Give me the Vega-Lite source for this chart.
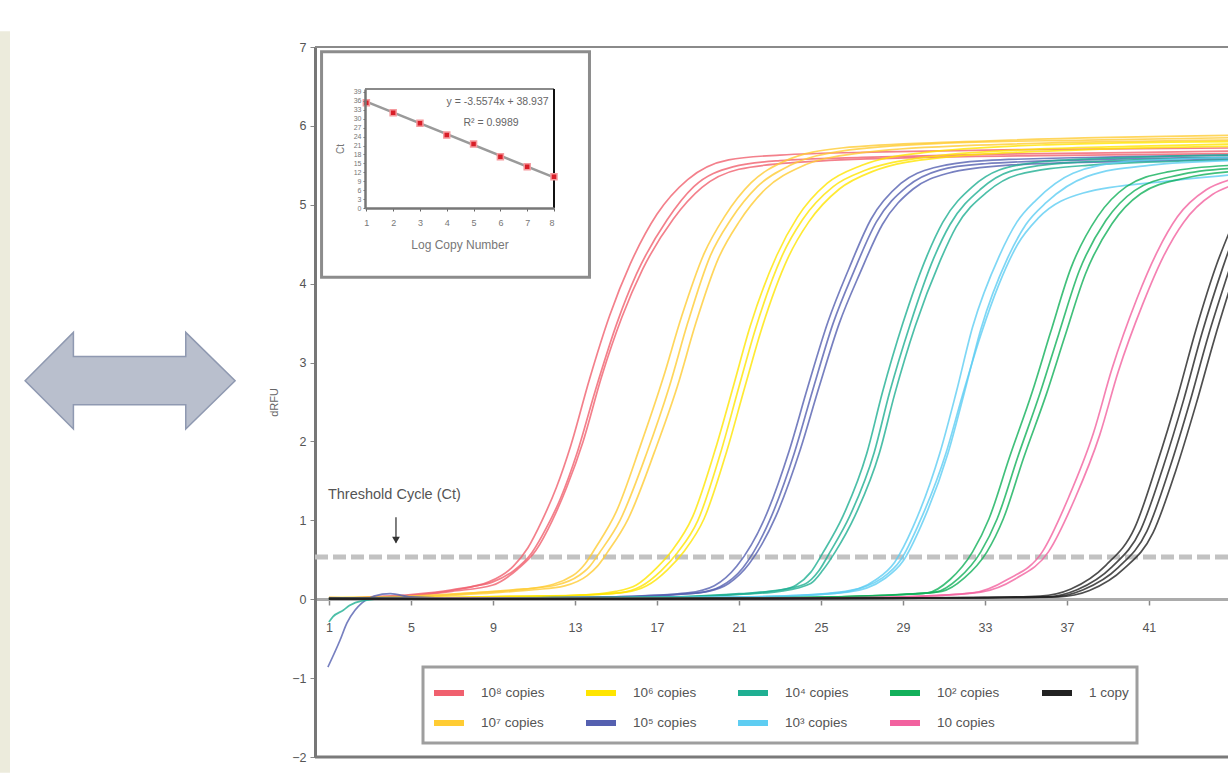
{
"$schema": "https://vega.github.io/schema/vega-lite/v6.json",
"width": 913, "height": 710,
"autosize": {"type": "none"},
"padding": {"left": 315, "top": 47, "right": 0, "bottom": 16},
"background": "white",
"config": {"font": "Liberation Sans", "view": {"stroke": null}, "axis": {"grid": false, "labelColor": "#555", "titleColor": "#555", "domainColor": "#777", "tickColor": "#777"}, "legend": {"strokeWidth": 3}},
"data": {"values": [{}]},
"datasets": {
"curves": [
{"s":"10⁸ copies","r":1,"c":1,"v":0.01},{"s":"10⁸ copies","r":1,"c":3,"v":0.02},{"s":"10⁸ copies","r":1,"c":5,"v":0.05},{"s":"10⁸ copies","r":1,"c":6.2,"v":0.08},{"s":"10⁸ copies","r":1,"c":7.2,"v":0.12},{"s":"10⁸ copies","r":1,"c":8,"v":0.16},{"s":"10⁸ copies","r":1,"c":9,"v":0.22},{"s":"10⁸ copies","r":1,"c":10,"v":0.36},{"s":"10⁸ copies","r":1,"c":10.9,"v":0.59},{"s":"10⁸ copies","r":1,"c":11.6,"v":0.9},{"s":"10⁸ copies","r":1,"c":12.3,"v":1.28},{"s":"10⁸ copies","r":1,"c":13.1,"v":1.85},{"s":"10⁸ copies","r":1,"c":14,"v":2.65},{"s":"10⁸ copies","r":1,"c":15.05,"v":3.5},{"s":"10⁸ copies","r":1,"c":16,"v":4.12},{"s":"10⁸ copies","r":1,"c":17.5,"v":4.81},{"s":"10⁸ copies","r":1,"c":18.8,"v":5.23},{"s":"10⁸ copies","r":1,"c":20.7,"v":5.48},{"s":"10⁸ copies","r":1,"c":23,"v":5.56},{"s":"10⁸ copies","r":1,"c":27,"v":5.6},{"s":"10⁸ copies","r":1,"c":33,"v":5.64},{"s":"10⁸ copies","r":1,"c":40,"v":5.66},{"s":"10⁸ copies","r":1,"c":45,"v":5.68},
{"s":"10⁸ copies","r":2,"c":1,"v":0},{"s":"10⁸ copies","r":2,"c":3,"v":0.03},{"s":"10⁸ copies","r":2,"c":5,"v":0.06},{"s":"10⁸ copies","r":2,"c":7,"v":0.12},{"s":"10⁸ copies","r":2,"c":8.8,"v":0.22},{"s":"10⁸ copies","r":2,"c":10,"v":0.42},{"s":"10⁸ copies","r":2,"c":10.7,"v":0.65},{"s":"10⁸ copies","r":2,"c":11.4,"v":1.0},{"s":"10⁸ copies","r":2,"c":12.1,"v":1.42},{"s":"10⁸ copies","r":2,"c":12.8,"v":1.95},{"s":"10⁸ copies","r":2,"c":13.7,"v":2.78},{"s":"10⁸ copies","r":2,"c":14.7,"v":3.6},{"s":"10⁸ copies","r":2,"c":15.7,"v":4.25},{"s":"10⁸ copies","r":2,"c":17,"v":4.88},{"s":"10⁸ copies","r":2,"c":18.5,"v":5.32},{"s":"10⁸ copies","r":2,"c":20.5,"v":5.57},{"s":"10⁸ copies","r":2,"c":23,"v":5.63},{"s":"10⁸ copies","r":2,"c":28,"v":5.67},{"s":"10⁸ copies","r":2,"c":35,"v":5.7},{"s":"10⁸ copies","r":2,"c":45,"v":5.72},
{"s":"10⁸ copies","r":3,"c":1,"v":0.02},{"s":"10⁸ copies","r":3,"c":3,"v":0.01},{"s":"10⁸ copies","r":3,"c":5,"v":0.04},{"s":"10⁸ copies","r":3,"c":7,"v":0.1},{"s":"10⁸ copies","r":3,"c":9,"v":0.18},{"s":"10⁸ copies","r":3,"c":10.2,"v":0.38},{"s":"10⁸ copies","r":3,"c":11.1,"v":0.62},{"s":"10⁸ copies","r":3,"c":11.9,"v":1.0},{"s":"10⁸ copies","r":3,"c":12.6,"v":1.42},{"s":"10⁸ copies","r":3,"c":13.4,"v":2.0},{"s":"10⁸ copies","r":3,"c":14.3,"v":2.82},{"s":"10⁸ copies","r":3,"c":15.3,"v":3.58},{"s":"10⁸ copies","r":3,"c":16.3,"v":4.18},{"s":"10⁸ copies","r":3,"c":17.8,"v":4.82},{"s":"10⁸ copies","r":3,"c":19.2,"v":5.22},{"s":"10⁸ copies","r":3,"c":21,"v":5.45},{"s":"10⁸ copies","r":3,"c":24,"v":5.54},{"s":"10⁸ copies","r":3,"c":30,"v":5.6},{"s":"10⁸ copies","r":3,"c":38,"v":5.63},{"s":"10⁸ copies","r":3,"c":45,"v":5.65},
{"s":"10⁷ copies","r":1,"c":1,"v":0},{"s":"10⁷ copies","r":1,"c":4,"v":0.02},{"s":"10⁷ copies","r":1,"c":7,"v":0.06},{"s":"10⁷ copies","r":1,"c":9,"v":0.1},{"s":"10⁷ copies","r":1,"c":10.5,"v":0.13},{"s":"10⁷ copies","r":1,"c":12.1,"v":0.18},{"s":"10⁷ copies","r":1,"c":13.2,"v":0.3},{"s":"10⁷ copies","r":1,"c":13.7,"v":0.41},{"s":"10⁷ copies","r":1,"c":14.2,"v":0.59},{"s":"10⁷ copies","r":1,"c":15.2,"v":1.0},{"s":"10⁷ copies","r":1,"c":16.5,"v":1.85},{"s":"10⁷ copies","r":1,"c":17.6,"v":2.69},{"s":"10⁷ copies","r":1,"c":18.5,"v":3.5},{"s":"10⁷ copies","r":1,"c":19.6,"v":4.35},{"s":"10⁷ copies","r":1,"c":20.6,"v":4.81},{"s":"10⁷ copies","r":1,"c":21.9,"v":5.23},{"s":"10⁷ copies","r":1,"c":23.5,"v":5.5},{"s":"10⁷ copies","r":1,"c":26,"v":5.68},{"s":"10⁷ copies","r":1,"c":31,"v":5.78},{"s":"10⁷ copies","r":1,"c":38,"v":5.82},{"s":"10⁷ copies","r":1,"c":45,"v":5.85},
{"s":"10⁷ copies","r":2,"c":1,"v":0.01},{"s":"10⁷ copies","r":2,"c":4,"v":0.01},{"s":"10⁷ copies","r":2,"c":7,"v":0.05},{"s":"10⁷ copies","r":2,"c":9,"v":0.08},{"s":"10⁷ copies","r":2,"c":11,"v":0.12},{"s":"10⁷ copies","r":2,"c":12.5,"v":0.17},{"s":"10⁷ copies","r":2,"c":13.6,"v":0.3},{"s":"10⁷ copies","r":2,"c":14.1,"v":0.42},{"s":"10⁷ copies","r":2,"c":14.6,"v":0.6},{"s":"10⁷ copies","r":2,"c":15.6,"v":1.02},{"s":"10⁷ copies","r":2,"c":16.9,"v":1.88},{"s":"10⁷ copies","r":2,"c":18,"v":2.7},{"s":"10⁷ copies","r":2,"c":18.9,"v":3.5},{"s":"10⁷ copies","r":2,"c":20,"v":4.32},{"s":"10⁷ copies","r":2,"c":21,"v":4.78},{"s":"10⁷ copies","r":2,"c":22.3,"v":5.2},{"s":"10⁷ copies","r":2,"c":24,"v":5.48},{"s":"10⁷ copies","r":2,"c":27,"v":5.66},{"s":"10⁷ copies","r":2,"c":32,"v":5.75},{"s":"10⁷ copies","r":2,"c":45,"v":5.82},
{"s":"10⁷ copies","r":3,"c":1,"v":0.02},{"s":"10⁷ copies","r":3,"c":5,"v":0.04},{"s":"10⁷ copies","r":3,"c":8,"v":0.08},{"s":"10⁷ copies","r":3,"c":11,"v":0.14},{"s":"10⁷ copies","r":3,"c":12.9,"v":0.3},{"s":"10⁷ copies","r":3,"c":13.5,"v":0.45},{"s":"10⁷ copies","r":3,"c":14,"v":0.65},{"s":"10⁷ copies","r":3,"c":15,"v":1.1},{"s":"10⁷ copies","r":3,"c":16.2,"v":1.95},{"s":"10⁷ copies","r":3,"c":17.3,"v":2.8},{"s":"10⁷ copies","r":3,"c":18.2,"v":3.58},{"s":"10⁷ copies","r":3,"c":19.3,"v":4.38},{"s":"10⁷ copies","r":3,"c":20.3,"v":4.85},{"s":"10⁷ copies","r":3,"c":21.6,"v":5.28},{"s":"10⁷ copies","r":3,"c":23.2,"v":5.55},{"s":"10⁷ copies","r":3,"c":26,"v":5.72},{"s":"10⁷ copies","r":3,"c":32,"v":5.8},{"s":"10⁷ copies","r":3,"c":45,"v":5.88},
{"s":"10⁶ copies","r":1,"c":1,"v":0},{"s":"10⁶ copies","r":1,"c":5,"v":0.01},{"s":"10⁶ copies","r":1,"c":9,"v":0.03},{"s":"10⁶ copies","r":1,"c":12,"v":0.04},{"s":"10⁶ copies","r":1,"c":14,"v":0.06},{"s":"10⁶ copies","r":1,"c":15.2,"v":0.08},{"s":"10⁶ copies","r":1,"c":16.2,"v":0.16},{"s":"10⁶ copies","r":1,"c":17.2,"v":0.36},{"s":"10⁶ copies","r":1,"c":18,"v":0.59},{"s":"10⁶ copies","r":1,"c":19,"v":1.0},{"s":"10⁶ copies","r":1,"c":20.1,"v":1.85},{"s":"10⁶ copies","r":1,"c":21,"v":2.69},{"s":"10⁶ copies","r":1,"c":21.8,"v":3.42},{"s":"10⁶ copies","r":1,"c":23.1,"v":4.35},{"s":"10⁶ copies","r":1,"c":24.1,"v":4.81},{"s":"10⁶ copies","r":1,"c":25.6,"v":5.23},{"s":"10⁶ copies","r":1,"c":27.2,"v":5.44},{"s":"10⁶ copies","r":1,"c":30,"v":5.6},{"s":"10⁶ copies","r":1,"c":35,"v":5.7},{"s":"10⁶ copies","r":1,"c":40,"v":5.74},{"s":"10⁶ copies","r":1,"c":45,"v":5.77},
{"s":"10⁶ copies","r":2,"c":1,"v":0.01},{"s":"10⁶ copies","r":2,"c":6,"v":0.02},{"s":"10⁶ copies","r":2,"c":10,"v":0.03},{"s":"10⁶ copies","r":2,"c":13,"v":0.05},{"s":"10⁶ copies","r":2,"c":15.5,"v":0.09},{"s":"10⁶ copies","r":2,"c":16.5,"v":0.17},{"s":"10⁶ copies","r":2,"c":17.5,"v":0.37},{"s":"10⁶ copies","r":2,"c":18.3,"v":0.6},{"s":"10⁶ copies","r":2,"c":19.3,"v":1.02},{"s":"10⁶ copies","r":2,"c":20.4,"v":1.87},{"s":"10⁶ copies","r":2,"c":21.3,"v":2.7},{"s":"10⁶ copies","r":2,"c":22.1,"v":3.42},{"s":"10⁶ copies","r":2,"c":23.4,"v":4.33},{"s":"10⁶ copies","r":2,"c":24.4,"v":4.78},{"s":"10⁶ copies","r":2,"c":25.9,"v":5.2},{"s":"10⁶ copies","r":2,"c":27.5,"v":5.42},{"s":"10⁶ copies","r":2,"c":31,"v":5.6},{"s":"10⁶ copies","r":2,"c":38,"v":5.7},{"s":"10⁶ copies","r":2,"c":45,"v":5.74},
{"s":"10⁶ copies","r":3,"c":1,"v":0.02},{"s":"10⁶ copies","r":3,"c":6,"v":0.02},{"s":"10⁶ copies","r":3,"c":10,"v":0.04},{"s":"10⁶ copies","r":3,"c":13,"v":0.05},{"s":"10⁶ copies","r":3,"c":15,"v":0.1},{"s":"10⁶ copies","r":3,"c":16,"v":0.18},{"s":"10⁶ copies","r":3,"c":17,"v":0.4},{"s":"10⁶ copies","r":3,"c":17.75,"v":0.62},{"s":"10⁶ copies","r":3,"c":18.75,"v":1.05},{"s":"10⁶ copies","r":3,"c":19.85,"v":1.9},{"s":"10⁶ copies","r":3,"c":20.75,"v":2.72},{"s":"10⁶ copies","r":3,"c":21.55,"v":3.46},{"s":"10⁶ copies","r":3,"c":22.85,"v":4.36},{"s":"10⁶ copies","r":3,"c":23.85,"v":4.84},{"s":"10⁶ copies","r":3,"c":25.3,"v":5.27},{"s":"10⁶ copies","r":3,"c":27,"v":5.5},{"s":"10⁶ copies","r":3,"c":30,"v":5.66},{"s":"10⁶ copies","r":3,"c":36,"v":5.76},{"s":"10⁶ copies","r":3,"c":45,"v":5.8},
{"s":"10⁵ copies","r":1,"c":1,"v":0},{"s":"10⁵ copies","r":1,"c":4,"v":0.02},{"s":"10⁵ copies","r":1,"c":8,"v":0.01},{"s":"10⁵ copies","r":1,"c":12,"v":0.02},{"s":"10⁵ copies","r":1,"c":15,"v":0.03},{"s":"10⁵ copies","r":1,"c":17,"v":0.05},{"s":"10⁵ copies","r":1,"c":19,"v":0.08},{"s":"10⁵ copies","r":1,"c":20.1,"v":0.16},{"s":"10⁵ copies","r":1,"c":21.2,"v":0.4},{"s":"10⁵ copies","r":1,"c":22.5,"v":1.0},{"s":"10⁵ copies","r":1,"c":23.7,"v":1.85},{"s":"10⁵ copies","r":1,"c":24.6,"v":2.65},{"s":"10⁵ copies","r":1,"c":25.6,"v":3.5},{"s":"10⁵ copies","r":1,"c":26.6,"v":4.15},{"s":"10⁵ copies","r":1,"c":27.7,"v":4.78},{"s":"10⁵ copies","r":1,"c":29.2,"v":5.23},{"s":"10⁵ copies","r":1,"c":30.8,"v":5.44},{"s":"10⁵ copies","r":1,"c":33,"v":5.52},{"s":"10⁵ copies","r":1,"c":38,"v":5.57},{"s":"10⁵ copies","r":1,"c":45,"v":5.6},
{"s":"10⁵ copies","r":2,"c":0.95,"v":-0.86},{"s":"10⁵ copies","r":2,"c":1.54,"v":-0.52},{"s":"10⁵ copies","r":2,"c":1.88,"v":-0.3},{"s":"10⁵ copies","r":2,"c":2.27,"v":-0.14},{"s":"10⁵ copies","r":2,"c":2.6,"v":-0.05},{"s":"10⁵ copies","r":2,"c":3.2,"v":0.04},{"s":"10⁵ copies","r":2,"c":4,"v":0.07},{"s":"10⁵ copies","r":2,"c":5,"v":0.03},{"s":"10⁵ copies","r":2,"c":8,"v":0.01},{"s":"10⁵ copies","r":2,"c":12,"v":0.02},{"s":"10⁵ copies","r":2,"c":16,"v":0.03},{"s":"10⁵ copies","r":2,"c":18,"v":0.06},{"s":"10⁵ copies","r":2,"c":19.5,"v":0.1},{"s":"10⁵ copies","r":2,"c":20.5,"v":0.2},{"s":"10⁵ copies","r":2,"c":21.5,"v":0.45},{"s":"10⁵ copies","r":2,"c":22.8,"v":1.05},{"s":"10⁵ copies","r":2,"c":24,"v":1.9},{"s":"10⁵ copies","r":2,"c":24.9,"v":2.68},{"s":"10⁵ copies","r":2,"c":25.9,"v":3.5},{"s":"10⁵ copies","r":2,"c":26.9,"v":4.13},{"s":"10⁵ copies","r":2,"c":28,"v":4.75},{"s":"10⁵ copies","r":2,"c":29.5,"v":5.2},{"s":"10⁵ copies","r":2,"c":31.2,"v":5.4},{"s":"10⁵ copies","r":2,"c":34,"v":5.5},{"s":"10⁵ copies","r":2,"c":40,"v":5.55},{"s":"10⁵ copies","r":2,"c":45,"v":5.58},
{"s":"10⁵ copies","r":3,"c":1,"v":0.01},{"s":"10⁵ copies","r":3,"c":5,"v":0.02},{"s":"10⁵ copies","r":3,"c":10,"v":0.01},{"s":"10⁵ copies","r":3,"c":15,"v":0.03},{"s":"10⁵ copies","r":3,"c":18.5,"v":0.08},{"s":"10⁵ copies","r":3,"c":19.8,"v":0.17},{"s":"10⁵ copies","r":3,"c":20.9,"v":0.42},{"s":"10⁵ copies","r":3,"c":22.25,"v":1.02},{"s":"10⁵ copies","r":3,"c":23.45,"v":1.88},{"s":"10⁵ copies","r":3,"c":24.35,"v":2.68},{"s":"10⁵ copies","r":3,"c":25.35,"v":3.52},{"s":"10⁵ copies","r":3,"c":26.35,"v":4.18},{"s":"10⁵ copies","r":3,"c":27.45,"v":4.82},{"s":"10⁵ copies","r":3,"c":28.9,"v":5.27},{"s":"10⁵ copies","r":3,"c":30.5,"v":5.47},{"s":"10⁵ copies","r":3,"c":33,"v":5.56},{"s":"10⁵ copies","r":3,"c":40,"v":5.61},{"s":"10⁵ copies","r":3,"c":45,"v":5.63},
{"s":"10⁴ copies","r":1,"c":1,"v":-0.29},{"s":"10⁴ copies","r":1,"c":1.2,"v":-0.22},{"s":"10⁴ copies","r":1,"c":1.7,"v":-0.14},{"s":"10⁴ copies","r":1,"c":2,"v":-0.08},{"s":"10⁴ copies","r":1,"c":2.6,"v":-0.02},{"s":"10⁴ copies","r":1,"c":4,"v":0.01},{"s":"10⁴ copies","r":1,"c":8,"v":0},{"s":"10⁴ copies","r":1,"c":12,"v":0.01},{"s":"10⁴ copies","r":1,"c":16,"v":0.02},{"s":"10⁴ copies","r":1,"c":19,"v":0.04},{"s":"10⁴ copies","r":1,"c":21,"v":0.07},{"s":"10⁴ copies","r":1,"c":23.1,"v":0.12},{"s":"10⁴ copies","r":1,"c":23.8,"v":0.18},{"s":"10⁴ copies","r":1,"c":24.5,"v":0.34},{"s":"10⁴ copies","r":1,"c":25.1,"v":0.59},{"s":"10⁴ copies","r":1,"c":26.07,"v":1.05},{"s":"10⁴ copies","r":1,"c":27.24,"v":1.85},{"s":"10⁴ copies","r":1,"c":28,"v":2.62},{"s":"10⁴ copies","r":1,"c":29,"v":3.5},{"s":"10⁴ copies","r":1,"c":30.17,"v":4.35},{"s":"10⁴ copies","r":1,"c":30.95,"v":4.78},{"s":"10⁴ copies","r":1,"c":32.4,"v":5.23},{"s":"10⁴ copies","r":1,"c":33.7,"v":5.44},{"s":"10⁴ copies","r":1,"c":36,"v":5.55},{"s":"10⁴ copies","r":1,"c":40,"v":5.6},{"s":"10⁴ copies","r":1,"c":45,"v":5.63},
{"s":"10⁴ copies","r":2,"c":1,"v":0},{"s":"10⁴ copies","r":2,"c":4,"v":0.01},{"s":"10⁴ copies","r":2,"c":10,"v":0.01},{"s":"10⁴ copies","r":2,"c":16,"v":0.02},{"s":"10⁴ copies","r":2,"c":20,"v":0.05},{"s":"10⁴ copies","r":2,"c":22.5,"v":0.1},{"s":"10⁴ copies","r":2,"c":24.2,"v":0.19},{"s":"10⁴ copies","r":2,"c":24.9,"v":0.36},{"s":"10⁴ copies","r":2,"c":25.45,"v":0.6},{"s":"10⁴ copies","r":2,"c":26.4,"v":1.05},{"s":"10⁴ copies","r":2,"c":27.6,"v":1.86},{"s":"10⁴ copies","r":2,"c":28.35,"v":2.62},{"s":"10⁴ copies","r":2,"c":29.35,"v":3.48},{"s":"10⁴ copies","r":2,"c":30.5,"v":4.32},{"s":"10⁴ copies","r":2,"c":31.3,"v":4.75},{"s":"10⁴ copies","r":2,"c":32.8,"v":5.2},{"s":"10⁴ copies","r":2,"c":34.2,"v":5.42},{"s":"10⁴ copies","r":2,"c":37,"v":5.53},{"s":"10⁴ copies","r":2,"c":45,"v":5.6},
{"s":"10⁴ copies","r":3,"c":1,"v":0.01},{"s":"10⁴ copies","r":3,"c":6,"v":0.01},{"s":"10⁴ copies","r":3,"c":12,"v":0.02},{"s":"10⁴ copies","r":3,"c":18,"v":0.03},{"s":"10⁴ copies","r":3,"c":21,"v":0.06},{"s":"10⁴ copies","r":3,"c":23,"v":0.1},{"s":"10⁴ copies","r":3,"c":24.5,"v":0.2},{"s":"10⁴ copies","r":3,"c":25.1,"v":0.37},{"s":"10⁴ copies","r":3,"c":25.7,"v":0.6},{"s":"10⁴ copies","r":3,"c":26.65,"v":1.05},{"s":"10⁴ copies","r":3,"c":27.85,"v":1.85},{"s":"10⁴ copies","r":3,"c":28.6,"v":2.6},{"s":"10⁴ copies","r":3,"c":29.6,"v":3.46},{"s":"10⁴ copies","r":3,"c":30.8,"v":4.28},{"s":"10⁴ copies","r":3,"c":31.6,"v":4.72},{"s":"10⁴ copies","r":3,"c":33.1,"v":5.16},{"s":"10⁴ copies","r":3,"c":34.6,"v":5.38},{"s":"10⁴ copies","r":3,"c":38,"v":5.5},{"s":"10⁴ copies","r":3,"c":45,"v":5.57},
{"s":"10³ copies","r":1,"c":1,"v":0},{"s":"10³ copies","r":1,"c":5,"v":0.01},{"s":"10³ copies","r":1,"c":10,"v":0},{"s":"10³ copies","r":1,"c":15,"v":0.01},{"s":"10³ copies","r":1,"c":20,"v":0.02},{"s":"10³ copies","r":1,"c":23,"v":0.04},{"s":"10³ copies","r":1,"c":25.9,"v":0.08},{"s":"10³ copies","r":1,"c":27.7,"v":0.25},{"s":"10³ copies","r":1,"c":28.6,"v":0.47},{"s":"10³ copies","r":1,"c":29.5,"v":0.92},{"s":"10³ copies","r":1,"c":30.8,"v":1.85},{"s":"10³ copies","r":1,"c":31.6,"v":2.62},{"s":"10³ copies","r":1,"c":32.4,"v":3.45},{"s":"10³ copies","r":1,"c":33.7,"v":4.35},{"s":"10³ copies","r":1,"c":34.56,"v":4.78},{"s":"10³ copies","r":1,"c":35.5,"v":5.06},{"s":"10³ copies","r":1,"c":37.3,"v":5.4},{"s":"10³ copies","r":1,"c":40,"v":5.55},{"s":"10³ copies","r":1,"c":45,"v":5.6},
{"s":"10³ copies","r":2,"c":1,"v":0.01},{"s":"10³ copies","r":2,"c":6,"v":0.01},{"s":"10³ copies","r":2,"c":12,"v":0.01},{"s":"10³ copies","r":2,"c":18,"v":0.02},{"s":"10³ copies","r":2,"c":23,"v":0.04},{"s":"10³ copies","r":2,"c":26.2,"v":0.1},{"s":"10³ copies","r":2,"c":28,"v":0.27},{"s":"10³ copies","r":2,"c":28.9,"v":0.5},{"s":"10³ copies","r":2,"c":29.8,"v":0.97},{"s":"10³ copies","r":2,"c":31.1,"v":1.85},{"s":"10³ copies","r":2,"c":31.9,"v":2.58},{"s":"10³ copies","r":2,"c":32.8,"v":3.35},{"s":"10³ copies","r":2,"c":33.7,"v":4.0},{"s":"10³ copies","r":2,"c":34.6,"v":4.5},{"s":"10³ copies","r":2,"c":35.6,"v":4.83},{"s":"10³ copies","r":2,"c":37.8,"v":5.15},{"s":"10³ copies","r":2,"c":41.9,"v":5.3},{"s":"10³ copies","r":2,"c":45,"v":5.38},
{"s":"10³ copies","r":3,"c":1,"v":0},{"s":"10³ copies","r":3,"c":8,"v":0.01},{"s":"10³ copies","r":3,"c":16,"v":0.02},{"s":"10³ copies","r":3,"c":22,"v":0.03},{"s":"10³ copies","r":3,"c":26.3,"v":0.09},{"s":"10³ copies","r":3,"c":28.1,"v":0.26},{"s":"10³ copies","r":3,"c":29,"v":0.48},{"s":"10³ copies","r":3,"c":29.9,"v":0.94},{"s":"10³ copies","r":3,"c":31.2,"v":1.85},{"s":"10³ copies","r":3,"c":32,"v":2.62},{"s":"10³ copies","r":3,"c":32.8,"v":3.42},{"s":"10³ copies","r":3,"c":34.1,"v":4.32},{"s":"10³ copies","r":3,"c":35,"v":4.75},{"s":"10³ copies","r":3,"c":36,"v":5.03},{"s":"10³ copies","r":3,"c":38,"v":5.36},{"s":"10³ copies","r":3,"c":41,"v":5.5},{"s":"10³ copies","r":3,"c":45,"v":5.56},
{"s":"10² copies","r":1,"c":1,"v":0},{"s":"10² copies","r":1,"c":6,"v":0.01},{"s":"10² copies","r":1,"c":12,"v":0},{"s":"10² copies","r":1,"c":18,"v":0.01},{"s":"10² copies","r":1,"c":24,"v":0.02},{"s":"10² copies","r":1,"c":27,"v":0.04},{"s":"10² copies","r":1,"c":30.2,"v":0.08},{"s":"10² copies","r":1,"c":31.3,"v":0.25},{"s":"10² copies","r":1,"c":32.4,"v":0.6},{"s":"10² copies","r":1,"c":33.2,"v":1.02},{"s":"10² copies","r":1,"c":34.2,"v":1.8},{"s":"10² copies","r":1,"c":35.3,"v":2.62},{"s":"10² copies","r":1,"c":36.2,"v":3.38},{"s":"10² copies","r":1,"c":37.2,"v":4.2},{"s":"10² copies","r":1,"c":38.5,"v":4.85},{"s":"10² copies","r":1,"c":39.9,"v":5.23},{"s":"10² copies","r":1,"c":42,"v":5.42},{"s":"10² copies","r":1,"c":45,"v":5.5},
{"s":"10² copies","r":2,"c":1,"v":0.01},{"s":"10² copies","r":2,"c":8,"v":0.01},{"s":"10² copies","r":2,"c":16,"v":0.01},{"s":"10² copies","r":2,"c":24,"v":0.02},{"s":"10² copies","r":2,"c":28,"v":0.05},{"s":"10² copies","r":2,"c":30.6,"v":0.09},{"s":"10² copies","r":2,"c":31.7,"v":0.26},{"s":"10² copies","r":2,"c":32.8,"v":0.6},{"s":"10² copies","r":2,"c":33.6,"v":1.02},{"s":"10² copies","r":2,"c":34.6,"v":1.8},{"s":"10² copies","r":2,"c":35.7,"v":2.62},{"s":"10² copies","r":2,"c":36.6,"v":3.36},{"s":"10² copies","r":2,"c":37.6,"v":4.16},{"s":"10² copies","r":2,"c":38.9,"v":4.8},{"s":"10² copies","r":2,"c":40.3,"v":5.18},{"s":"10² copies","r":2,"c":42.5,"v":5.38},{"s":"10² copies","r":2,"c":45,"v":5.46},
{"s":"10² copies","r":3,"c":1,"v":0},{"s":"10² copies","r":3,"c":10,"v":0.01},{"s":"10² copies","r":3,"c":20,"v":0.01},{"s":"10² copies","r":3,"c":26,"v":0.03},{"s":"10² copies","r":3,"c":29,"v":0.06},{"s":"10² copies","r":3,"c":30.9,"v":0.1},{"s":"10² copies","r":3,"c":32,"v":0.27},{"s":"10² copies","r":3,"c":33.1,"v":0.6},{"s":"10² copies","r":3,"c":33.9,"v":1.02},{"s":"10² copies","r":3,"c":34.9,"v":1.8},{"s":"10² copies","r":3,"c":36,"v":2.6},{"s":"10² copies","r":3,"c":36.9,"v":3.33},{"s":"10² copies","r":3,"c":37.9,"v":4.12},{"s":"10² copies","r":3,"c":39.2,"v":4.76},{"s":"10² copies","r":3,"c":40.6,"v":5.14},{"s":"10² copies","r":3,"c":42.8,"v":5.34},{"s":"10² copies","r":3,"c":45,"v":5.42},
{"s":"10 copies","r":1,"c":1,"v":0},{"s":"10 copies","r":1,"c":8,"v":0.01},{"s":"10 copies","r":1,"c":16,"v":0},{"s":"10 copies","r":1,"c":24,"v":0.01},{"s":"10 copies","r":1,"c":29,"v":0.03},{"s":"10 copies","r":1,"c":32.4,"v":0.08},{"s":"10 copies","r":1,"c":34.1,"v":0.25},{"s":"10 copies","r":1,"c":35.8,"v":0.6},{"s":"10 copies","r":1,"c":37.1,"v":1.3},{"s":"10 copies","r":1,"c":38.3,"v":2.11},{"s":"10 copies","r":1,"c":39.2,"v":2.92},{"s":"10 copies","r":1,"c":40.4,"v":3.8},{"s":"10 copies","r":1,"c":41.4,"v":4.4},{"s":"10 copies","r":1,"c":42.4,"v":4.85},{"s":"10 copies","r":1,"c":43.8,"v":5.19},{"s":"10 copies","r":1,"c":45,"v":5.32},
{"s":"10 copies","r":2,"c":1,"v":0.01},{"s":"10 copies","r":2,"c":10,"v":0.01},{"s":"10 copies","r":2,"c":20,"v":0.01},{"s":"10 copies","r":2,"c":27,"v":0.02},{"s":"10 copies","r":2,"c":30,"v":0.04},{"s":"10 copies","r":2,"c":32.8,"v":0.09},{"s":"10 copies","r":2,"c":34.5,"v":0.26},{"s":"10 copies","r":2,"c":36.1,"v":0.6},{"s":"10 copies","r":2,"c":37.4,"v":1.28},{"s":"10 copies","r":2,"c":38.6,"v":2.08},{"s":"10 copies","r":2,"c":39.5,"v":2.88},{"s":"10 copies","r":2,"c":40.7,"v":3.74},{"s":"10 copies","r":2,"c":41.7,"v":4.34},{"s":"10 copies","r":2,"c":42.7,"v":4.78},{"s":"10 copies","r":2,"c":44.1,"v":5.13},{"s":"10 copies","r":2,"c":45,"v":5.24},
{"s":"1 copy","r":1,"c":1,"v":0},{"s":"1 copy","r":1,"c":10,"v":0},{"s":"1 copy","r":1,"c":20,"v":0.01},{"s":"1 copy","r":1,"c":28,"v":0.01},{"s":"1 copy","r":1,"c":33,"v":0.02},{"s":"1 copy","r":1,"c":36,"v":0.03},{"s":"1 copy","r":1,"c":37.5,"v":0.12},{"s":"1 copy","r":1,"c":39.2,"v":0.41},{"s":"1 copy","r":1,"c":40.6,"v":0.88},{"s":"1 copy","r":1,"c":41.7,"v":1.68},{"s":"1 copy","r":1,"c":42.7,"v":2.53},{"s":"1 copy","r":1,"c":43.6,"v":3.38},{"s":"1 copy","r":1,"c":44.6,"v":4.2},{"s":"1 copy","r":1,"c":45,"v":4.5},
{"s":"1 copy","r":2,"c":1,"v":0.01},{"s":"1 copy","r":2,"c":12,"v":0},{"s":"1 copy","r":2,"c":24,"v":0.01},{"s":"1 copy","r":2,"c":32,"v":0.02},{"s":"1 copy","r":2,"c":36.3,"v":0.03},{"s":"1 copy","r":2,"c":37.8,"v":0.12},{"s":"1 copy","r":2,"c":39.5,"v":0.4},{"s":"1 copy","r":2,"c":40.9,"v":0.86},{"s":"1 copy","r":2,"c":42,"v":1.65},{"s":"1 copy","r":2,"c":43,"v":2.5},{"s":"1 copy","r":2,"c":43.9,"v":3.34},{"s":"1 copy","r":2,"c":44.9,"v":4.16},{"s":"1 copy","r":2,"c":45,"v":4.24},
{"s":"1 copy","r":3,"c":1,"v":0},{"s":"1 copy","r":3,"c":14,"v":0.01},{"s":"1 copy","r":3,"c":26,"v":0.01},{"s":"1 copy","r":3,"c":33,"v":0.02},{"s":"1 copy","r":3,"c":36.6,"v":0.03},{"s":"1 copy","r":3,"c":38.1,"v":0.11},{"s":"1 copy","r":3,"c":39.8,"v":0.39},{"s":"1 copy","r":3,"c":41.2,"v":0.84},{"s":"1 copy","r":3,"c":42.3,"v":1.62},{"s":"1 copy","r":3,"c":43.3,"v":2.47},{"s":"1 copy","r":3,"c":44.2,"v":3.3},{"s":"1 copy","r":3,"c":45,"v":3.98},
{"s":"1 copy","r":4,"c":1,"v":0.01},{"s":"1 copy","r":4,"c":16,"v":0},{"s":"1 copy","r":4,"c":28,"v":0.01},{"s":"1 copy","r":4,"c":33,"v":0.02},{"s":"1 copy","r":4,"c":35.7,"v":0.04},{"s":"1 copy","r":4,"c":37.2,"v":0.13},{"s":"1 copy","r":4,"c":38.9,"v":0.43},{"s":"1 copy","r":4,"c":40.3,"v":0.9},{"s":"1 copy","r":4,"c":41.4,"v":1.72},{"s":"1 copy","r":4,"c":42.4,"v":2.57},{"s":"1 copy","r":4,"c":43.3,"v":3.42},{"s":"1 copy","r":4,"c":44.3,"v":4.24},{"s":"1 copy","r":4,"c":45,"v":4.7}
],
"std": [{"x":1,"ct":35.4},{"x":2,"ct":32.0},{"x":3,"ct":28.5},{"x":4,"ct":24.5},{"x":5,"ct":21.5},{"x":6,"ct":17.2},{"x":7,"ct":13.9},{"x":8,"ct":10.5}]
},
"layer": [
{"layer": [
 {"mark": {"type": "rect", "color": "#ECEBDC", "clip": false},
  "encoding": {"x": {"datum": -15.05, "scale": {"domain": [0.32, 44.86], "nice": false, "zero": false}}, "x2": {"datum": -14.56}, "y": {"datum": -2.2, "scale": {"domain": [-2, 7], "nice": false, "zero": false}}, "y2": {"datum": 7.2}}},
 {"mark": {"type": "point", "shape": "M-1,0L-0.54,-0.46L-0.54,-0.23L0.53,-0.23L0.53,-0.46L1,0L0.53,0.46L0.53,0.23L-0.54,0.23L-0.54,0.46Z", "size": 44100, "filled": true, "fill": "#B9BFCD", "stroke": "#8F99B1", "strokeWidth": 1.5, "opacity": 1, "clip": false},
  "encoding": {"x": {"datum": -8.7}, "y": {"datum": 2.77}}},
 {"mark": {"type": "rule", "color": "#C2C2C2", "strokeWidth": 5, "strokeDash": [13, 5]},
  "encoding": {"y": {"datum": 0.536}}},
 {"data": {"name": "curves"},
  "mark": {"type": "line", "interpolate": "monotone", "strokeWidth": 1.7, "opacity": 0.8, "clip": true},
  "encoding": {
   "x": {"field": "c", "type": "quantitative", "scale": {"domain": [0.32, 44.86], "nice": false, "zero": false},
     "axis": {"title": null, "values": [1,5,9,13,17,21,25,29,33,37,41], "format": "d", "offset": -158, "domainColor": "#ABABAB", "domainWidth": 3, "tickSize": 6, "tickWidth": 1.5, "tickColor": "#888", "labelPadding": 16, "labelFontSize": 12.5, "labelColor": "#555", "labelBound": false, "labelFlush": false, "labelOverlap": false}},
   "y": {"field": "v", "type": "quantitative", "scale": {"domain": [-2, 7], "nice": false, "zero": false},
     "axis": {"title": "dRFU", "values": [-2,-1,0,1,2,3,4,5,6,7], "format": "d", "domainColor": "#777", "domainWidth": 3, "tickSize": 5, "tickColor": "#888", "labelFontSize": 12.5, "labelPadding": 4, "labelColor": "#555", "titleFontSize": 11, "titleFontWeight": "normal", "titlePadding": 12, "titleColor": "#666"}},
   "color": {"field": "s", "type": "nominal",
     "scale": {"domain": ["10⁸ copies","10⁶ copies","10⁴ copies","10² copies","1 copy","10⁷ copies","10⁵ copies","10³ copies","10 copies"],
               "range": ["#F0606E","#FFE500","#1FAF92","#12B05A","#222222","#FFCC33","#5560B0","#5ECDF2","#F2629F"]},
     "legend": {"orient": "none", "legendX": 108, "legendY": 620, "columns": 5, "direction": "horizontal", "title": null, "symbolType": "stroke", "symbolSize": 900, "symbolStrokeWidth": 6, "symbolOpacity": 1, "labelFontSize": 13.5, "labelColor": "#555", "labelOffset": 14, "columnPadding": 29, "rowPadding": 0, "gridAlign": "all", "padding": 8, "fillColor": "white", "strokeColor": "#9E9E9E"}},
   "detail": {"field": "r", "type": "nominal"}
  }},
 {"mark": {"type": "text", "text": "Threshold Cycle (Ct)", "align": "left", "baseline": "middle", "fontSize": 14.5, "color": "#555"},
  "encoding": {"x": {"datum": 0.95}, "y": {"datum": 1.32}}},
 {"mark": {"type": "rule", "color": "#555", "strokeWidth": 1.5},
  "encoding": {"x": {"datum": 4.27}, "y": {"datum": 1.04}, "y2": {"datum": 0.72}}},
 {"mark": {"type": "point", "shape": "triangle-down", "size": 60, "filled": true, "color": "#333", "opacity": 1},
  "encoding": {"x": {"datum": 4.27}, "y": {"datum": 0.75}}},
 {"mark": {"type": "rule", "color": "#8A8A8A", "strokeWidth": 2},
  "encoding": {"y": {"datum": 7}}},
 {"mark": {"type": "rule", "color": "#7A7A7A", "strokeWidth": 3},
  "encoding": {"y": {"datum": -2}}},
 {"mark": {"type": "rect", "fill": "white", "stroke": "#8C8C8C", "strokeWidth": 3, "clip": false},
  "encoding": {"x": {"datum": 0.64}, "x2": {"datum": 13.71}, "y": {"datum": 4.08}, "y2": {"datum": 6.94}}}
]},
{"layer": [
 {"mark": {"type": "rule", "color": "#9A9A9A", "strokeWidth": 2.5},
  "encoding": {"x": {"datum": 0.95, "type": "quantitative", "scale": {"domain": [0.95, 8], "range": [50, 239], "nice": false, "zero": false},
     "axis": {"orient": "bottom", "offset": -549, "zindex": 2, "values": [1,2,3,4,5,6,7,8], "format": "d", "domainColor": "#777", "domainWidth": 2.5, "tickSize": 3, "tickColor": "#666", "labelFontSize": 9, "labelPadding": 7, "labelColor": "#777", "title": "Log Copy Number", "titleFontSize": 12, "titleFontWeight": "normal", "titleColor": "#777", "titlePadding": 12}},
   "x2": {"datum": 8},
   "y": {"datum": 35.9, "type": "quantitative", "scale": {"domain": [0, 40], "range": [161, 42], "nice": false, "zero": false},
     "axis": {"orient": "left", "offset": -50, "zindex": 2, "values": [0,3,6,9,12,15,18,21,24,27,30,33,36,39], "format": "d", "domainColor": "#777", "domainWidth": 2.5, "tickSize": 2, "tickColor": "#666", "labelFontSize": 7, "labelPadding": 2, "labelColor": "#777", "labelOverlap": false, "title": "Ct", "titleFontSize": 10, "titleFontWeight": "normal", "titleColor": "#777", "titlePadding": 8}},
   "y2": {"datum": 10.3}}},
 {"mark": {"type": "rule", "color": "#8A8A8A", "strokeWidth": 2},
  "encoding": {"x": {"datum": 0.95}, "x2": {"datum": 8}, "y": {"datum": 40}}},
 {"mark": {"type": "rule", "color": "#111111", "strokeWidth": 2},
  "encoding": {"x": {"datum": 8}, "y": {"datum": 0}, "y2": {"datum": 40}}},
 {"data": {"name": "std"},
  "mark": {"type": "point", "shape": "square", "size": 36, "filled": true, "fill": "#D81E28", "stroke": "#F59A9E", "strokeWidth": 1.5, "opacity": 1},
  "encoding": {"x": {"field": "x", "type": "quantitative"}, "y": {"field": "ct", "type": "quantitative"}}},
 {"mark": {"type": "text", "text": "y = -3.5574x + 38.937", "align": "right", "baseline": "middle", "fontSize": 10.5, "color": "#666"},
  "encoding": {"x": {"datum": 7.8}, "y": {"datum": 35.6}}},
 {"mark": {"type": "text", "text": "R² = 0.9989", "align": "center", "baseline": "middle", "fontSize": 10.5, "color": "#666"},
  "encoding": {"x": {"datum": 5.65}, "y": {"datum": 28.6}}}
]}
],
"resolve": {"scale": {"x": "independent", "y": "independent"}, "axis": {"x": "independent", "y": "independent"}}
}
